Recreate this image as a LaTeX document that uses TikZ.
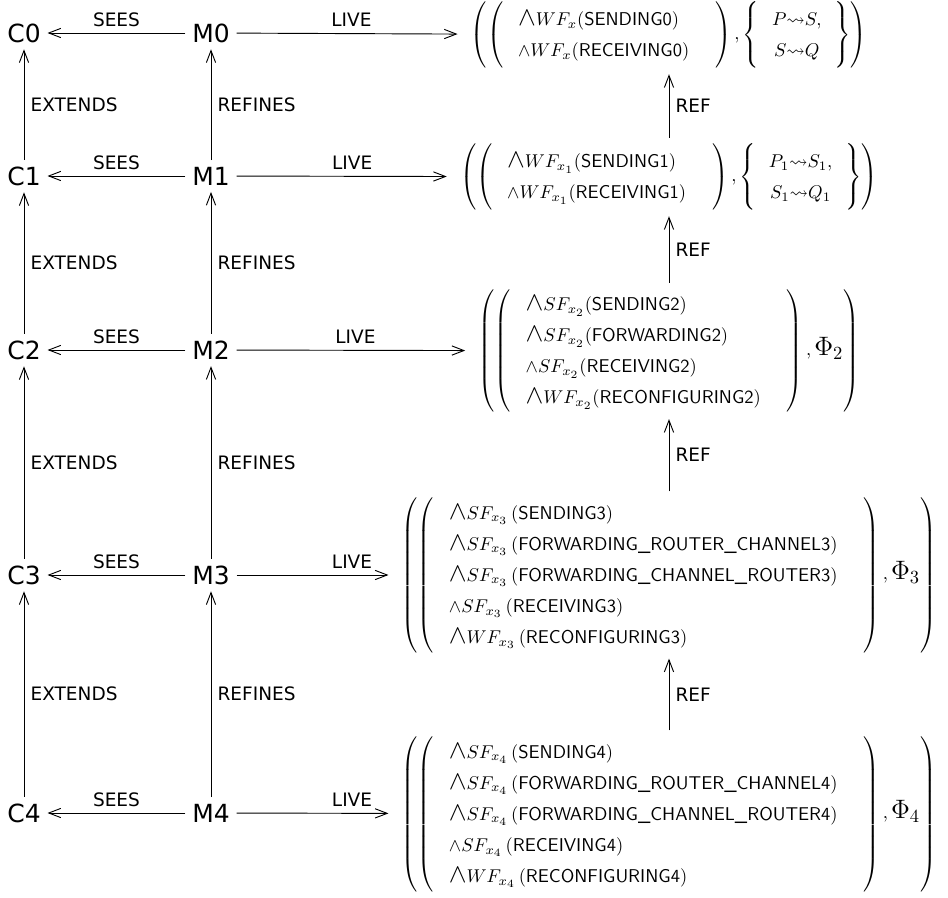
\documentclass[tikz,border=0pt]{standalone}
\usepackage{amssymb}
\usepackage{fontspec}
\newfontfamily\dejavu{DejaVu Sans}
\usepackage{tikz}
\usetikzlibrary{arrows.meta,positioning}
\DeclareMathSizes{10}{10}{7}{6}
\renewcommand{\arraystretch}{1.4}
\setlength{\arraycolsep}{7pt}
\newcommand{\band}{\mathord{\hbox{\Large$\wedge$}}}
\newcommand{\bphi}[1]{\mbox{\Large$\Phi_{#1}$}}
\tikzset{
  mach/.style={font=\dejavu\fontsize{13.5}{16}\selectfont,inner sep=3.5pt},
  expr/.style={inner xsep=7pt,inner ysep=3pt},
  arr/.style={-{Straight Barb[length=6.5pt,width=5pt]},line width=0.5pt},
  lbl/.style={font=\dejavu\fontsize{10}{12}\selectfont}}

\begin{document}
\begin{tikzpicture}[x=0.5405pt,y=-0.5405pt]
\useasboundingbox (0,0) rectangle (948,898);
% contexts and machines
\node[mach] (c0) at (24,33) {C0};
\node[mach] (m0) at (211,33) {M0};
\node[mach] (c1) at (24,176) {C1};
\node[mach] (m1) at (211,176) {M1};
\node[mach] (c2) at (24,350) {C2};
\node[mach] (m2) at (211,350) {M2};
\node[mach] (c3) at (24,575) {C3};
\node[mach] (m3) at (211,575) {M3};
\node[mach] (c4) at (24,813) {C4};
\node[mach] (m4) at (211,813) {M4};
% liveness properties
\node[expr] (p0) at (669,35) {$\left(\left(\begin{array}{@{\hspace{8pt}}l@{\hspace{14pt}}}
  \band WF_x(\textsf{SENDING0})\\
  \wedge WF_x(\textsf{RECEIVING0})
  \end{array}\right), \left\{\begin{array}{c}
  P{\leadsto}S,\\
  S{\leadsto}Q
  \end{array}\right\}\right)$};
\node[expr] (p1) at (669,177) {$\left(\left(\begin{array}{@{\hspace{8pt}}l@{\hspace{14pt}}}
  \band WF_{x_1}(\textsf{SENDING1})\\
  \wedge WF_{x_1}(\textsf{RECEIVING1})
  \end{array}\right), \left\{\begin{array}{c}
  P_1{\leadsto}S_1,\\
  S_1{\leadsto}Q_1
  \end{array}\right\}\right)$};
\node[expr] (p2) at (669,351) {$\left(\left(\begin{array}{@{\hspace{8pt}}l@{\hspace{14pt}}}
  \band SF_{x_2}(\textsf{SENDING2})\\
  \band SF_{x_2}(\textsf{FORWARDING2})\\
  \wedge SF_{x_2}(\textsf{RECEIVING2})\\
  \band WF_{x_2}(\textsf{RECONFIGURING2})
  \end{array}\right), \bphi{2}\right)$};
\node[expr] (p3) at (669,575) {$\left(\left(\begin{array}{@{\hspace{8pt}}l@{\hspace{14pt}}}
  \band SF_{x_3}\,(\textsf{SENDING3})\\
  \band SF_{x_3}\,(\textsf{FORWARDING\_ROUTER\_CHANNEL3})\\
  \band SF_{x_3}\,(\textsf{FORWARDING\_CHANNEL\_ROUTER3})\\
  \wedge SF_{x_3}\,(\textsf{RECEIVING3})\\
  \band WF_{x_3}\,(\textsf{RECONFIGURING3})
  \end{array}\right), \bphi{3}\right)$};
\node[expr] (p4) at (669,814) {$\left(\left(\begin{array}{@{\hspace{8pt}}l@{\hspace{14pt}}}
  \band SF_{x_4}\,(\textsf{SENDING4})\\
  \band SF_{x_4}\,(\textsf{FORWARDING\_ROUTER\_CHANNEL4})\\
  \band SF_{x_4}\,(\textsf{FORWARDING\_CHANNEL\_ROUTER4})\\
  \wedge SF_{x_4}\,(\textsf{RECEIVING4})\\
  \band WF_{x_4}\,(\textsf{RECONFIGURING4})
  \end{array}\right), \bphi{4}\right)$};
% sees
\draw[arr] (m0) -- node[above,lbl]{SEES} (c0);
\draw[arr] (m1) -- node[above,lbl]{SEES} (c1);
\draw[arr] (m2) -- node[above,lbl]{SEES} (c2);
\draw[arr] (m3) -- node[above,lbl]{SEES} (c3);
\draw[arr] (m4) -- node[above,lbl]{SEES} (c4);
% live
\draw[arr] (m0) -- node[above,lbl,pos=.52]{LIVE} (p0);
\draw[arr] (m1) -- node[above,lbl,pos=.55]{LIVE} (p1);
\draw[arr] (m2) -- node[above,lbl,pos=.52]{LIVE} (p2);
\draw[arr] (m3) -- node[above,lbl,pos=.76]{LIVE} (p3);
\draw[arr] (m4) -- node[above,lbl,pos=.76]{LIVE} (p4);
% extends and refines
\draw[arr] (c1) -- node[right,lbl]{EXTENDS} (c0);
\draw[arr] (c2) -- node[right,lbl]{EXTENDS} (c1);
\draw[arr] (c3) -- node[right,lbl]{EXTENDS} (c2);
\draw[arr] (c4) -- node[right,lbl]{EXTENDS} (c3);
\draw[arr] (m1) -- node[right,lbl]{REFINES} (m0);
\draw[arr] (m2) -- node[right,lbl]{REFINES} (m1);
\draw[arr] (m3) -- node[right,lbl]{REFINES} (m2);
\draw[arr] (m4) -- node[right,lbl]{REFINES} (m3);
\draw[arr] (p1) -- node[right,lbl]{REF} (p0);
\draw[arr] (p2) -- node[right,lbl]{REF} (p1);
\draw[arr] (p3) -- node[right,lbl]{REF} (p2);
\draw[arr] (p4) -- node[right,lbl]{REF} (p3);
\end{tikzpicture}
\end{document}
